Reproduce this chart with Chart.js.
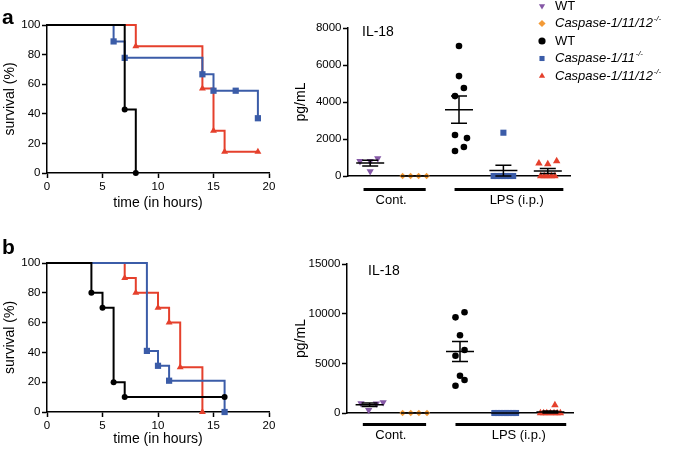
<!DOCTYPE html>
<html>
<head>
<meta charset="utf-8">
<script src="https://cdn.jsdelivr.net/npm/chart.js@4.4.1/dist/chart.umd.min.js"></script>
<style>
html, body { margin: 0; padding: 0; background: #fff; }
#wrap { position: relative; width: 675px; height: 458px; overflow: hidden; font-family: 'Liberation Sans', Arial, sans-serif; }
#wrap canvas { position: absolute; left: 0; top: 0; }
.tag { position: absolute; font-weight: bold; font-size: 21px; line-height: 1; }
</style>
</head>
<body>
<div id="wrap">
  <canvas id="survA" width="675" height="458"></canvas>
  <canvas id="survB" width="675" height="458"></canvas>
  <canvas id="il18A" width="675" height="458"></canvas>
  <canvas id="il18B" width="675" height="458"></canvas>
  <div class="tag" style="left:2px;top:6px">a</div>
  <div class="tag" style="left:2px;top:236px">b</div>
</div>
<script>
// ---- survival, panel a (time in hours, % surviving) ----
const aWtTime = [0, 7, 8];
const aWtSurv = [100, 42.9, 0];
const aC11Time = [0, 6, 7, 14, 15, 17, 19];
const aC11Surv = [100, 88.9, 77.8, 66.7, 55.6, 55.6, 37.0];
const aC1112Time = [0, 8, 14, 15, 16, 19];
const aC1112Surv = [100, 85.7, 57.1, 28.6, 14.3, 14.3];

// ---- survival, panel b ----
const bWtTime = [0, 4, 5, 6, 7, 16];
const bWtSurv = [100, 80, 70, 20, 10, 10];
const bC11Time = [0, 9, 10, 11, 16];
const bC11Surv = [100, 41, 31, 21, 0];
const bC1112Time = [0, 7, 8, 10, 11, 12, 14];
const bC1112Surv = [100, 90, 80, 70, 60, 30, 0];

const survTicks = [0, 5, 10, 15, 20];

// ---- IL-18 (pg/mL) ----
const groupLabels = ['Cont.', 'LPS (i.p.)'];
const groupSpans = [[0.85, 2.25], [2.9, 5.35]];
const groupLabelAt = [1.47, 4.3];
const legendLabels = ['WT', 'Caspase-1/11/12', 'WT', 'Caspase-1/11', 'Caspase-1/11/12'];

const aWtCont = [800, 800, 950, 250];
const aCaspCont = [0, 0, 0, 0];
const aWtLps = [7030, 5400, 4760, 4320, 2220, 2050, 1570, 1350];
const aC11Lps = [2340, 0, 0, 0, 0, 0, 0, 0];
const aC1112Lps = [690, 650, 810, 0, 0, 0, 0, 0];

const bWtCont = [980, 300, 950, 1080];
const bCaspCont = [0, 0, 0, 0];
const bWtLps = [10140, 9630, 7820, 6340, 5770, 3750, 3320, 2750];
const bC11Lps = [0, 0, 0, 0, 0, 0, 0, 0];
const bC1112Lps = [800, 0, 0, 0, 0, 0, 0, 0];

// horizontal scatter of the dots inside each column (x units)
const aWtContJit = [-0.23, 0, 0.17, 0];
const contJit = [-0.27, -0.09, 0.09, 0.27];
const aWtLpsJit = [0, 0, 0.11, -0.09, -0.09, 0.18, 0.11, -0.09];
const aC11Jit = [0, -0.22, -0.15, -0.07, 0, 0.07, 0.15, 0.22];
const aC1112Jit = [-0.2, 0, 0.2, -0.16, -0.08, 0, 0.08, 0.16];
const bWtContJit = [-0.19, -0.02, 0.15, 0.3];
const bWtLpsJit = [0.1, -0.1, 0, 0.1, -0.1, 0, 0.1, -0.1];
const bC11Jit = [-0.24, -0.17, -0.1, -0.03, 0.03, 0.1, 0.17, 0.24];
const bC1112Jit = [0.1, -0.22, -0.15, -0.08, 0, 0.08, 0.15, 0.22];

const BLACK = '#000000';
const PURPLE = '#8558a6';
const ORANGE = '#f39a36';
const BLUE = '#3b5ca8';
const RED = '#e5402c';

Chart.defaults.font.family = "'Liberation Sans', Arial, sans-serif";
Chart.defaults.color = '#000';

const xy = (xs, ys) => xs.map((x, i) => ({ x: x, y: ys[i] }));
const col = (pos, vals, jit) => vals.map((v, i) => ({ x: pos + jit[i], y: v }));

function axisBase() {
  return {
    grid: { display: true, drawOnChartArea: false, drawTicks: true, tickLength: 5, tickColor: '#000', tickWidth: 1.5 },
    border: { display: true, color: '#000', width: 1.5 },
    ticks: { color: '#000', font: { size: 11.5 }, padding: 1.5, callback: v => String(v) }
  };
}

// ---------- survival curves ----------
function survLine(label, color, style, r, xs, ys) {
  return {
    label: label,
    data: xy(xs, ys),
    showLine: true,
    stepped: 'before',
    borderColor: color,
    borderWidth: 2,
    backgroundColor: color,
    pointStyle: style,
    pointRadius: ctx => ctx.dataIndex === 0 ? 0 : r,
    pointBorderWidth: 0,
    clip: false
  };
}

function survChart(id, sets, pad, xH) {
  const xs = axisBase();
  const ys = axisBase();
  return new Chart(document.getElementById(id), {
    type: 'scatter',
    data: { datasets: sets },
    options: {
      responsive: false,
      animation: false,
      layout: { padding: pad },
      plugins: { legend: { display: false }, tooltip: { enabled: false } },
      scales: {
        x: Object.assign(xs, {
          type: 'linear', min: 0, max: 20,
          afterBuildTicks: s => { s.ticks = survTicks.map(v => ({ value: v })); },
          title: { display: true, text: 'time (in hours)', font: { size: 14 }, padding: 0 },
          afterFit: s => { s.height = xH; }
        }),
        y: Object.assign(ys, {
          min: 0, max: 100,
          ticks: Object.assign(ys.ticks, { stepSize: 20 }),
          title: { display: true, text: 'survival (%)', font: { size: 14 }, padding: 0 },
          afterFit: s => { s.width = 45.4; }
        })
      }
    }
  });
}

survChart('survA', [
  survLine('WT', BLACK, 'circle', 3, aWtTime, aWtSurv),
  survLine('Caspase-1/11', BLUE, 'rect', 4.4, aC11Time, aC11Surv),
  survLine('Caspase-1/11/12', RED, 'triangle', 4, aC1112Time, aC1112Surv)
], { left: 1.6, top: 25, right: 406, bottom: 246.6 }, 38.4);

survChart('survB', [
  survLine('WT', BLACK, 'circle', 3, bWtTime, bWtSurv),
  survLine('Caspase-1/11', BLUE, 'rect', 4.4, bC11Time, bC11Surv),
  survLine('Caspase-1/11/12', RED, 'triangle', 4, bC1112Time, bC1112Surv)
], { left: 1.6, top: 263, right: 406, bottom: 10.6 }, 35.4);

// ---------- IL-18 dot plots ----------
// mean +/- SEM worked out from each column's values
const meanSem = {
  id: 'meanSem',
  afterDatasetsDraw(chart) {
    const { ctx, scales: { x, y } } = chart;
    ctx.save();
    ctx.strokeStyle = '#000';
    ctx.lineWidth = 1.5;
    chart.data.datasets.forEach(ds => {
      const vals = ds.data.map(p => p.y);
      const n = vals.length;
      const m = vals.reduce((a, b) => a + b, 0) / n;
      const sd = Math.sqrt(vals.reduce((a, v) => a + (v - m) * (v - m), 0) / (n - 1));
      const sem = sd / Math.sqrt(n);
      const cx = x.getPixelForValue(ds.pos);
      const yM = y.getPixelForValue(m);
      const yT = y.getPixelForValue(m + sem);
      const yB = y.getPixelForValue(Math.max(0, m - sem));
      ctx.beginPath();
      ctx.moveTo(cx - 14, yM); ctx.lineTo(cx + 14, yM);
      ctx.moveTo(cx - 8, yT); ctx.lineTo(cx + 8, yT);
      ctx.moveTo(cx - 8, yB); ctx.lineTo(cx + 8, yB);
      ctx.moveTo(cx, yT); ctx.lineTo(cx, yB);
      ctx.stroke();
    });
    ctx.restore();
  }
};

const groupBars = {
  id: 'groupBars',
  afterDraw(chart, args, opts) {
    const { ctx, chartArea, scales: { x } } = chart;
    const yb = chartArea.bottom + opts.dy;
    ctx.save();
    ctx.strokeStyle = '#000';
    ctx.lineWidth = 3;
    ctx.fillStyle = '#000';
    ctx.font = "13px 'Liberation Sans', Arial, sans-serif";
    ctx.textAlign = 'center';
    ctx.textBaseline = 'middle';
    groupSpans.forEach((sp, i) => {
      ctx.beginPath();
      ctx.moveTo(x.getPixelForValue(sp[0]), yb);
      ctx.lineTo(x.getPixelForValue(sp[1]), yb);
      ctx.stroke();
      ctx.fillText(groupLabels[i], x.getPixelForValue(groupLabelAt[i]), yb + 10.5);
    });
    ctx.font = "14px 'Liberation Sans', Arial, sans-serif";
    ctx.textAlign = 'left';
    ctx.fillText(opts.title, chartArea.left + opts.tx, chartArea.top + opts.ty);
    ctx.restore();
  }
};

const sideLegend = {
  id: 'sideLegend',
  afterDraw(chart, args, opts) {
    if (!opts.show) return;
    const ctx = chart.ctx;
    ctx.save();
    ctx.textBaseline = 'middle';
    ctx.textAlign = 'left';
    chart.data.datasets.forEach((ds, i) => {
      const yy = opts.top + i * opts.gap;
      ctx.fillStyle = ds.backgroundColor;
      Chart.helpers.drawPoint(ctx, { pointStyle: ds.pointStyle, rotation: ds.rotation || 0, radius: 3.6, borderWidth: 0 }, opts.x, yy);
      const ko = ds.label !== 'WT';
      ctx.fillStyle = '#000';
      ctx.font = (ko ? 'italic ' : '') + "13px 'Liberation Sans', Arial, sans-serif";
      ctx.fillText(ds.label, opts.x + 13, yy);
      if (ko) {
        const w = ctx.measureText(ds.label).width;
        ctx.font = "italic 8px 'Liberation Sans', Arial, sans-serif";
        ctx.fillText('-/-', opts.x + 13 + w + 0.5, yy - 4.5);
      }
    });
    ctx.restore();
  }
};

function dotSet(i, pos, vals, jit, color, style, r, rot) {
  return {
    label: legendLabels[i],
    pos: pos,
    data: col(pos, vals, jit),
    backgroundColor: color,
    borderWidth: 0,
    pointStyle: style,
    rotation: rot || 0,
    pointRadius: r,
    clip: false
  };
}

function il18Chart(id, sets, yMax, yStep, pad, legend, titleOff) {
  const ys = axisBase();
  return new Chart(document.getElementById(id), {
    type: 'scatter',
    data: { datasets: sets },
    plugins: [meanSem, groupBars, sideLegend],
    options: {
      responsive: false,
      animation: false,
      layout: { padding: pad },
      plugins: {
        legend: { display: false },
        tooltip: { enabled: false },
        groupBars: { dy: titleOff.dy, title: 'IL-18', tx: titleOff.tx, ty: titleOff.ty },
        sideLegend: { show: legend, x: 542, top: 6, gap: 17.5 }
      },
      scales: {
        x: {
          type: 'linear', min: 0.5, max: 5.5,
          grid: { display: false },
          ticks: { display: false },
          border: { display: true, color: '#000', width: 1.5 },
          afterFit: s => { s.height = 2; }
        },
        y: Object.assign(ys, {
          min: 0, max: yMax,
          ticks: Object.assign(ys.ticks, { stepSize: yStep }),
          title: { display: true, text: 'pg/mL', font: { size: 14 }, padding: 0 },
          afterFit: s => { s.width = pad.w; }
        })
      }
    }
  });
}

il18Chart('il18A', [
  dotSet(0, 1, aWtCont, aWtContJit, PURPLE, 'triangle', 4.2, 180),
  dotSet(1, 2, aCaspCont, contJit, ORANGE, 'rectRot', 3.2),
  dotSet(2, 3, aWtLps, aWtLpsJit, BLACK, 'circle', 3.3),
  dotSet(3, 4, aC11Lps, aC11Jit, BLUE, 'rect', 4.3),
  dotSet(4, 5, aC1112Lps, aC1112Jit, RED, 'triangle', 4.3)
], 8000, 2000, { left: 292.6, top: 28, right: 105, bottom: 280, w: 55.4 }, true, { dy: 13.5, tx: 14, ty: 4 });

il18Chart('il18B', [
  dotSet(0, 1, bWtCont, bWtContJit, PURPLE, 'triangle', 4.2, 180),
  dotSet(1, 2, bCaspCont, contJit, ORANGE, 'rectRot', 3.2),
  dotSet(2, 3, bWtLps, bWtLpsJit, BLACK, 'circle', 3.3),
  dotSet(3, 4, bC11Lps, bC11Jit, BLUE, 'rect', 4.3),
  dotSet(4, 5, bC1112Lps, bC1112Jit, RED, 'triangle', 4.3)
], 15000, 5000, { left: 292.6, top: 264, right: 102, bottom: 43, w: 54.4 }, false, { dy: 11.5, tx: 21, ty: 7 });
</script>
</body>
</html>
